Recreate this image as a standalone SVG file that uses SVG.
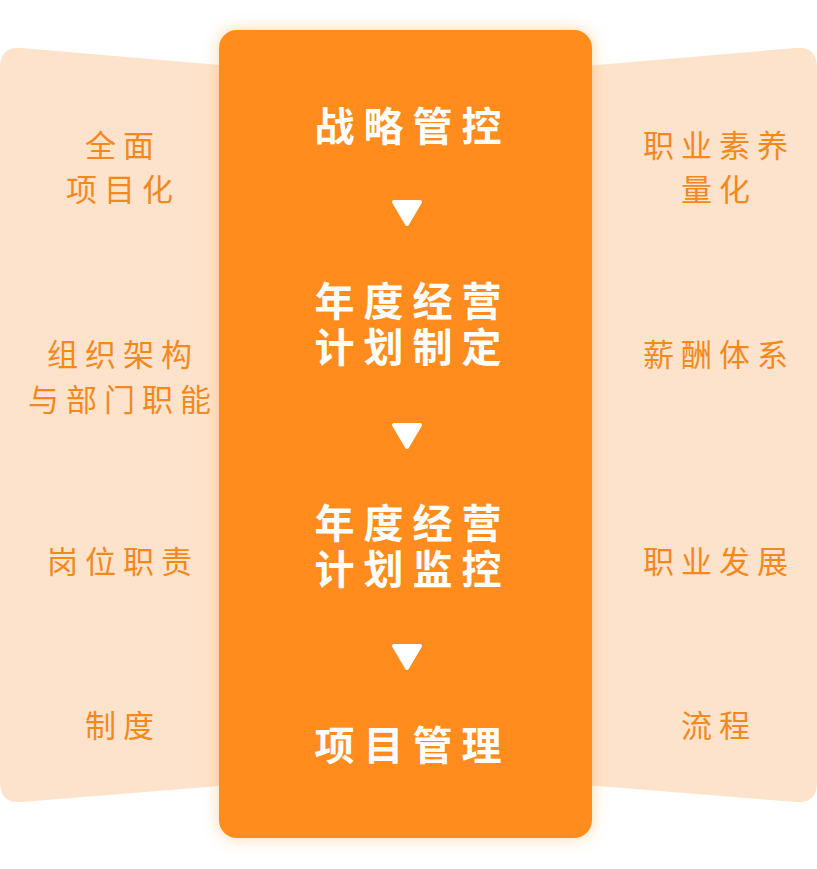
<svg xmlns="http://www.w3.org/2000/svg" width="817" height="869" viewBox="0 0 817 869">
<defs>
<filter id="sh" x="-20%" y="-10%" width="140%" height="120%">
<feDropShadow dx="0" dy="0" stdDeviation="8" flood-color="#FF8C1E" flood-opacity="0.35"/>
</filter>
<style>
.side{fill:#FEE3CC}
.st{font-family:"Noto Sans CJK SC","Noto Sans",sans-serif;font-size:31px;fill:#F2891F;text-anchor:middle;letter-spacing:7px}
.ct{font-family:"Noto Sans CJK SC","Noto Sans",sans-serif;font-size:40px;font-weight:bold;fill:#FFFFFF;text-anchor:middle;letter-spacing:9px}
.tri{fill:#FFFFFF;stroke:#FFFFFF;stroke-width:4;stroke-linejoin:round}
</style>
</defs>
<rect width="817" height="869" fill="#FFFFFF"/>
<g id="left-panel">
<path class="side" d="M0 68 Q0 46 22 48 L232 66 L232 785 L22 802 Q0 804 0 782 Z"/>
<text class="st" x="123" y="157">全面</text>
<text class="st" x="123" y="201">项目化</text>
<text class="st" x="123" y="366">组织架构</text>
<text class="st" x="123" y="411">与部门职能</text>
<text class="st" x="123" y="573">岗位职责</text>
<text class="st" x="123" y="737">制度</text>
</g>
<g id="right-panel">
<path class="side" d="M817 68 Q817 46 795 48 L585 66 L585 785 L795 802 Q817 804 817 782 Z"/>
<text class="st" x="719" y="157">职业素养</text>
<text class="st" x="719" y="201">量化</text>
<text class="st" x="719" y="366">薪酬体系</text>
<text class="st" x="719" y="573">职业发展</text>
<text class="st" x="719" y="737">流程</text>
</g>
<g id="center-panel">
<rect x="219" y="30" width="373" height="808" rx="18" fill="#FF8C1E" filter="url(#sh)"/>
</g>
<g id="node-1"><text class="ct" x="412.5" y="141">战略管控</text></g>
<g id="node-2"><text class="ct" x="412.5" y="316">年度经营</text><text class="ct" x="412.5" y="362">计划制定</text></g>
<g id="node-3"><text class="ct" x="412.5" y="538">年度经营</text><text class="ct" x="412.5" y="584">计划监控</text></g>
<g id="node-4"><text class="ct" x="412.5" y="760">项目管理</text></g>
<g id="connectors">
<path class="tri" d="M394 202 L420 202 L407 224 Z"/>
<path class="tri" d="M394 425 L420 425 L407 447 Z"/>
<path class="tri" d="M394 646 L420 646 L407 668 Z"/>
</g>
</svg>
